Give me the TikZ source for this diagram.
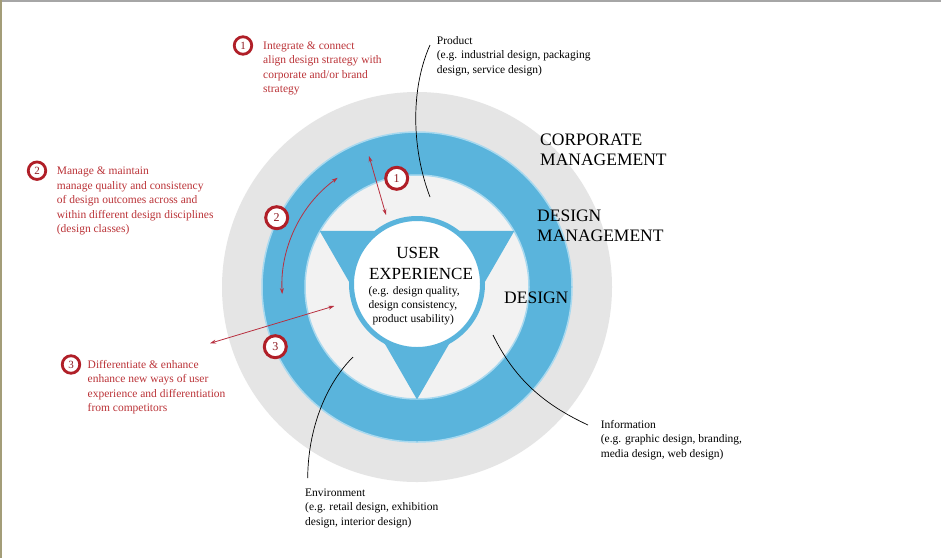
\documentclass[tikz,border=0pt]{standalone}
\usepackage{fontspec}
\setmainfont{Liberation Serif}
\usetikzlibrary{arrows.meta,calc}
\definecolor{ringblue}{HTML}{5AB4DC}
\definecolor{rimblue}{HTML}{A9D9EF}
\definecolor{outergray}{HTML}{E5E5E5}
\definecolor{innergray}{HTML}{F2F2F2}
\definecolor{redtext}{HTML}{BB3338}
\definecolor{redcirc}{HTML}{B01F28}
\definecolor{redarrow}{HTML}{B83040}
\definecolor{frameolive}{HTML}{A39D78}
\tikzset{
 small/.style={font=\fontsize{11.5}{14.5}\selectfont, inner sep=0pt, align=left, anchor=base west},
 redlabel/.style={small, text=redtext},
 big/.style={font=\fontsize{17.5}{20}\selectfont, inner sep=0pt, align=left, anchor=base west},
 numcirc/.style={circle, draw=redcirc, line width=2.8pt, fill=white, minimum size=17.5pt, inner sep=0pt, text=redcirc!80!black, font=\fontsize{11}{11}\selectfont},
 bignumcirc/.style={numcirc, line width=3pt, minimum size=22pt, font=\fontsize{12}{12}\selectfont},
 redarr/.style={draw=redarrow, line width=0.8pt, {Stealth[length=6pt,width=4pt]}-{Stealth[length=6pt,width=4pt]}},
 leader/.style={draw=black, line width=0.7pt},
}
\begin{document}
\begin{tikzpicture}[x=1pt,y=-1pt]
\useasboundingbox (0,0) rectangle (941,558);
\fill[white] (0,0) rectangle (941,558);
\draw[gray!70, line width=2pt] (0,1) -- (941,1);
\draw[frameolive, line width=1.5pt] (1,0) -- (1,558);
% rings
\coordinate (c) at (417,287);
\fill[outergray] (c) circle[radius=195pt];
\fill[ringblue] (c) circle[radius=155pt];
\draw[rimblue, line width=1.5pt] (c) circle[radius=155pt];
\fill[innergray] (c) circle[radius=112pt];
\draw[rimblue, line width=1.5pt] (c) circle[radius=112pt];
\fill[ringblue] ($(c)+(150:112.5pt)$) -- ($(c)+(30:112.5pt)$) -- ($(c)+(270:112.5pt)$) -- cycle;
\node[circle, fill=white, draw=ringblue, line width=5pt, minimum size=131pt, inner sep=0pt] (ux) at (417,284) {};
% center text
\node[big, anchor=base, font=\fontsize{17}{20}\selectfont] (u1) at (418,258.3) {USER};
\node[big, anchor=base, font=\fontsize{17}{20}\selectfont] (u2) at (421,279.3) {EXPERIENCE};
\node[small] (u3) at (368.3,294) {(e.g. design quality,};
\node[small] (u4) at (368.3,308.3) {design consistency,};
\node[small] (u5) at (372.3,322.7) {product usability)};
\node[big] (dz) at (504,303.3) {DESIGN};
\node[big] (dm) at (537,241.7) {DESIGN\\MANAGEMENT};
\node[big] (cm) at (540,165) {CORPORATE\\MANAGEMENT};
% legends (anchor = baseline of the last line)
\node[numcirc] (l1) at (243,45.5) {1};
\node[redlabel] (t1) at (263,92.5) {Integrate \& connect\\align design strategy with\\corporate and/or brand\\strategy};
\node[numcirc] (l2) at (37,170.7) {2};
\node[redlabel] (t2) at (56.7,232.5) {Manage \& maintain\\manage quality and consistency\\of design outcomes across and\\within different design disciplines\\(design classes)};
\node[numcirc] (l3) at (71,364.5) {3};
\node[redlabel] (t3) at (87.5,411.5) {Differentiate \& enhance\\enhance new ways of user\\experience and differentiation\\from competitors};
% arrows
\coordinate (a1s) at (369,156);
\coordinate (a1e) at (386,215);
\draw[redarr] (a1s) -- (a1e);
\coordinate (a2s) at ($(c)+(126:135pt)$);
\draw[redarr] (a2s) arc[start angle=126, end angle=183, radius=135pt];
\coordinate (a3s) at (210,343.3);
\coordinate (a3e) at (334.3,306);
\draw[redarr] (a3s) -- (a3e);
\node[bignumcirc] (n1) at (396.7,178.3) {1};
\node[bignumcirc] (n2) at (276.7,217.7) {2};
\node[bignumcirc] (n3) at (275.3,346.7) {3};
% leaders
\node[small] (pt) at (436.7,73) {Product\\(e.g. industrial design, packaging\\design, service design)};
\coordinate (p0) at (430,197);
\coordinate (p1) at (430,45);
\draw[leader] (p0) .. controls (412,150) and (410,90) .. (p1);
\node[small] (it) at (600.7,457.3) {Information\\(e.g. graphic design, branding,\\media design, web design)};
\coordinate (i0) at (493,335);
\coordinate (i1) at (588,425);
\draw[leader] (i0) .. controls (515,380) and (545,405) .. (i1);
\node[small] (et) at (305,525) {Environment\\(e.g. retail design, exhibition\\design, interior design)};
\coordinate (e0) at (353,357);
\coordinate (e1) at (307.7,478);
\draw[leader] (e0) .. controls (325,385) and (308,430) .. (e1);
\end{tikzpicture}
\end{document}
